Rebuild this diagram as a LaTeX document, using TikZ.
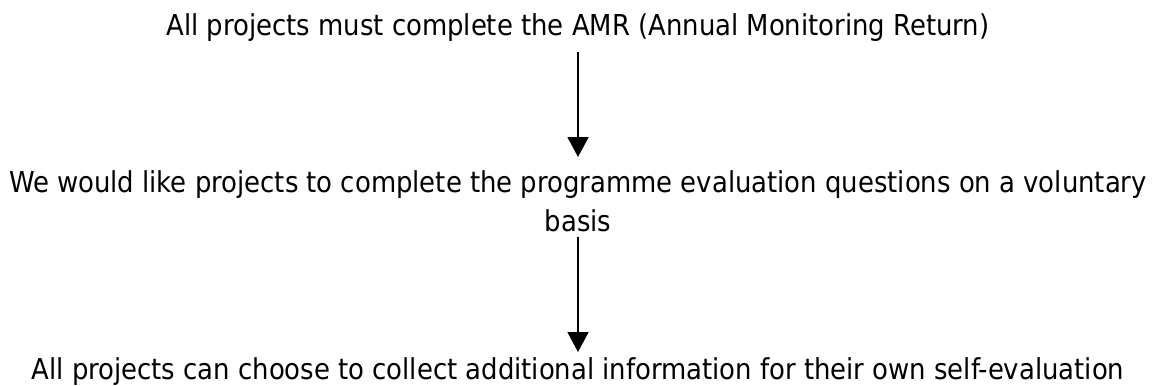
\documentclass[tikz,border=0pt]{standalone}
\usepackage{fontspec}
\setmainfont{DejaVu Sans Condensed}
\usetikzlibrary{arrows.meta}
\tikzset{
  lbl/.style={font=\fontsize{28.8}{39}\selectfont, align=center, inner sep=0pt, anchor=base},
  flow/.style={line width=1.8pt, -{Triangle[length=20pt,width=21pt]}}
}
\begin{document}
\begin{tikzpicture}[x=1pt,y=-1pt]
\useasboundingbox (0,0) rectangle (1155,385);
\node[lbl] (a) at (578,36) {All projects must complete the AMR (Annual Monitoring Return)};
\node[lbl] (b) at (578,231) {We would like projects to complete the programme evaluation questions on a voluntary\\basis};
\node[lbl] (c) at (578,379) {All projects can choose to collect additional information for their own self-evaluation};
\coordinate (a1) at (578,52);
\coordinate (b1) at (578,157);
\coordinate (b2) at (578,237);
\coordinate (c1) at (578,352);
\draw[flow] (a1) -- (b1);
\draw[flow] (b2) -- (c1);
\end{tikzpicture}
\end{document}
